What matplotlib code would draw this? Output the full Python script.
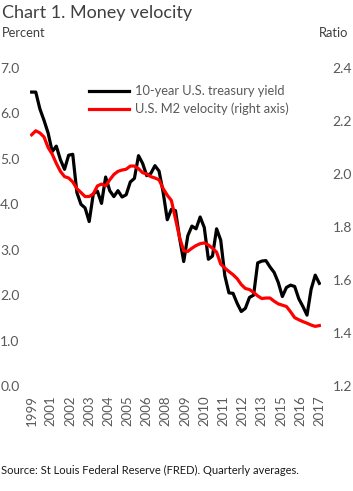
import numpy as np
import matplotlib
matplotlib.use('Agg')
import matplotlib.pyplot as plt

# quarterly data, 1999Q4 - 2017Q2
treasury = [6.47, 6.47, 6.10, 5.85, 5.57, 5.16, 5.28, 4.98, 4.77, 5.08,
            5.10, 4.26, 4.00, 3.92, 3.62, 4.23, 4.29, 4.02, 4.60, 4.30,
            4.17, 4.30, 4.16, 4.21, 4.49, 4.57, 5.07, 4.90, 4.63, 4.68,
            4.85, 4.73, 4.26, 3.66, 3.89, 3.86, 3.25, 2.74, 3.31, 3.52,
            3.46, 3.72, 3.49, 2.79, 2.86, 3.46, 3.21, 2.43, 2.05, 2.04,
            1.82, 1.64, 1.71, 1.95, 2.00, 2.71, 2.75, 2.76, 2.62, 2.50,
            2.28, 1.97, 2.17, 2.22, 2.19, 1.92, 1.75, 1.56, 2.13, 2.44,
            2.26]
m2_velocity = [2.148, 2.163, 2.155, 2.140, 2.100, 2.075, 2.040, 2.010, 1.990, 1.985,
               1.970, 1.945, 1.930, 1.915, 1.915, 1.925, 1.955, 1.962, 1.955, 1.978,
               1.998, 2.010, 2.015, 2.018, 2.030, 2.030, 2.020, 2.005, 2.000, 1.990,
               1.985, 1.978, 1.945, 1.920, 1.900, 1.830, 1.760, 1.710, 1.708, 1.720,
               1.730, 1.737, 1.740, 1.732, 1.720, 1.705, 1.660, 1.645, 1.632, 1.620,
               1.605, 1.583, 1.568, 1.564, 1.553, 1.540, 1.530, 1.532, 1.532, 1.520,
               1.510, 1.505, 1.500, 1.480, 1.458, 1.450, 1.443, 1.437, 1.430, 1.425,
               1.428]
year_labels = ['1999', '2001', '2002', '2003', '2004', '2005', '2006', '2008',
               '2009', '2010', '2011', '2012', '2013', '2015', '2016', '2017']

plt.rcParams['font.family'] = ['Lato', 'DejaVu Sans']
grey = '#595959'

W, H = 353, 491
fig = plt.figure(figsize=(W / 100, H / 100), dpi=100)
# axes placed in pixel coords
x0, x1 = 29.6, 321.4
y_top, y_bot = 68, 386
ax = fig.add_axes([x0 / W, 1 - y_bot / H, (x1 - x0) / W, (y_bot - y_top) / H])
ax2 = ax.twinx()

x = np.arange(len(treasury))
ax.plot(x, treasury, color='black', lw=2.3, label='10-year U.S. treasury yield')
ax2.plot(x, m2_velocity, color='#ff0000', lw=2.3, label='U.S. M2 velocity (right axis)')

ax.set_xlim(-0.5, len(treasury) - 0.5)
ax.set_ylim(0, 7)
ax2.set_ylim(1.2, 2.4)
ax.set_yticks(np.arange(0, 7.5, 1.0))
ax.set_yticklabels(['%.1f' % v for v in np.arange(0, 7.5, 1.0)])
ax2.set_yticks(np.arange(1.2, 2.45, 0.2))
ax2.set_yticklabels(['%.1f' % v for v in np.arange(1.2, 2.45, 0.2)])
ax.set_xticks(np.linspace(0, len(treasury) - 1, len(year_labels)))
ax.set_xticklabels(year_labels, rotation=90, va='top')

for a in (ax, ax2):
    for s in a.spines.values():
        s.set_visible(False)
    a.tick_params(length=0, labelsize=10, labelcolor=grey)
ax.tick_params(axis='y', pad=7.2)
ax2.tick_params(axis='y', pad=8)
ax.tick_params(axis='x', pad=6.5, labelsize=9.5)

# legend
h1, l1 = ax.get_legend_handles_labels()
h2, l2 = ax2.get_legend_handles_labels()
ax.legend(h1 + h2, l1 + l2, loc='upper left', bbox_to_anchor=(0.205, 0.945),
          frameon=False, fontsize=9.3, labelcolor=grey, handlelength=3.1,
          handletextpad=0.45, borderpad=0, borderaxespad=0, labelspacing=0.42)

fig.text(2 / W, 1 - 18 / H, 'Chart 1. Money velocity', fontsize=13, color='#404040',
         ha='left', va='baseline')
fig.text(2 / W, 1 - 33 / H, 'Percent', fontsize=9.3, color='#404040', ha='left', va='center')
fig.text(348 / W, 1 - 33 / H, 'Ratio', fontsize=9.3, color='#404040', ha='right', va='center')
fig.text(1 / W, 1 - 470 / H, 'Source: St Louis Federal Reserve (FRED). Quarterly averages.',
         fontsize=8, color='#1a1a1a', ha='left', va='center')

fig.savefig('out.png', dpi=100)
